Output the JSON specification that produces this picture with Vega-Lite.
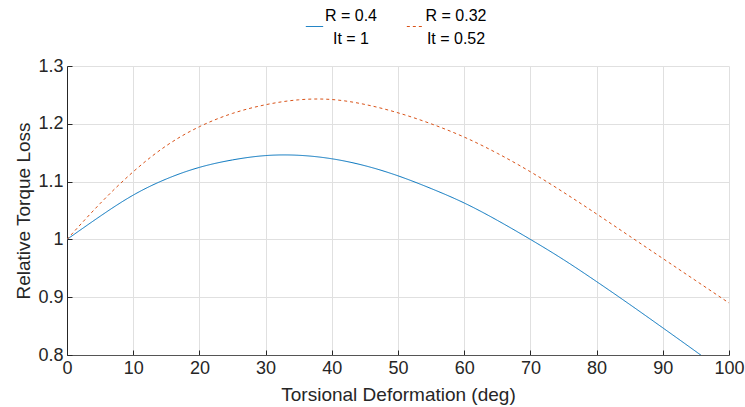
{
  "$schema": "https://vega.github.io/schema/vega-lite/v6.json",
  "autosize": {"type": "none"},
  "padding": {"left": 67, "top": 66, "right": 16, "bottom": 52},
  "width": 662,
  "height": 289,
  "background": "white",
  "data": {"values": [
    {"deg": 0, "loss": 1.0, "s": "R = 0.4\nIt = 1"},
    {"deg": 5, "loss": 1.040, "s": "R = 0.4\nIt = 1"},
    {"deg": 10, "loss": 1.0766, "s": "R = 0.4\nIt = 1"},
    {"deg": 15, "loss": 1.1045, "s": "R = 0.4\nIt = 1"},
    {"deg": 20, "loss": 1.1246, "s": "R = 0.4\nIt = 1"},
    {"deg": 25, "loss": 1.1375, "s": "R = 0.4\nIt = 1"},
    {"deg": 30, "loss": 1.1450, "s": "R = 0.4\nIt = 1"},
    {"deg": 35, "loss": 1.1455, "s": "R = 0.4\nIt = 1"},
    {"deg": 40, "loss": 1.1395, "s": "R = 0.4\nIt = 1"},
    {"deg": 45, "loss": 1.1275, "s": "R = 0.4\nIt = 1"},
    {"deg": 50, "loss": 1.1100, "s": "R = 0.4\nIt = 1"},
    {"deg": 55, "loss": 1.0880, "s": "R = 0.4\nIt = 1"},
    {"deg": 60, "loss": 1.0630, "s": "R = 0.4\nIt = 1"},
    {"deg": 65, "loss": 1.0330, "s": "R = 0.4\nIt = 1"},
    {"deg": 70, "loss": 1.0000, "s": "R = 0.4\nIt = 1"},
    {"deg": 75, "loss": 0.9650, "s": "R = 0.4\nIt = 1"},
    {"deg": 80, "loss": 0.9270, "s": "R = 0.4\nIt = 1"},
    {"deg": 85, "loss": 0.8875, "s": "R = 0.4\nIt = 1"},
    {"deg": 90, "loss": 0.8470, "s": "R = 0.4\nIt = 1"},
    {"deg": 95, "loss": 0.8060, "s": "R = 0.4\nIt = 1"},
    {"deg": 100, "loss": 0.7645, "s": "R = 0.4\nIt = 1"},
    {"deg": 0, "loss": 1.0, "s": "R = 0.32\nIt = 0.52"},
    {"deg": 5, "loss": 1.062, "s": "R = 0.32\nIt = 0.52"},
    {"deg": 10, "loss": 1.117, "s": "R = 0.32\nIt = 0.52"},
    {"deg": 15, "loss": 1.162, "s": "R = 0.32\nIt = 0.52"},
    {"deg": 20, "loss": 1.195, "s": "R = 0.32\nIt = 0.52"},
    {"deg": 25, "loss": 1.218, "s": "R = 0.32\nIt = 0.52"},
    {"deg": 30, "loss": 1.233, "s": "R = 0.32\nIt = 0.52"},
    {"deg": 35, "loss": 1.2415, "s": "R = 0.32\nIt = 0.52"},
    {"deg": 40, "loss": 1.2420, "s": "R = 0.32\nIt = 0.52"},
    {"deg": 45, "loss": 1.2335, "s": "R = 0.32\nIt = 0.52"},
    {"deg": 50, "loss": 1.2190, "s": "R = 0.32\nIt = 0.52"},
    {"deg": 55, "loss": 1.2000, "s": "R = 0.32\nIt = 0.52"},
    {"deg": 60, "loss": 1.1770, "s": "R = 0.32\nIt = 0.52"},
    {"deg": 65, "loss": 1.1490, "s": "R = 0.32\nIt = 0.52"},
    {"deg": 70, "loss": 1.1170, "s": "R = 0.32\nIt = 0.52"},
    {"deg": 75, "loss": 1.0815, "s": "R = 0.32\nIt = 0.52"},
    {"deg": 80, "loss": 1.0440, "s": "R = 0.32\nIt = 0.52"},
    {"deg": 85, "loss": 1.0055, "s": "R = 0.32\nIt = 0.52"},
    {"deg": 90, "loss": 0.9670, "s": "R = 0.32\nIt = 0.52"},
    {"deg": 95, "loss": 0.9285, "s": "R = 0.32\nIt = 0.52"},
    {"deg": 100, "loss": 0.8900, "s": "R = 0.32\nIt = 0.52"}
  ]},
  "mark": {"type": "line", "strokeWidth": 1, "clip": true, "interpolate": "natural"},
  "encoding": {
    "x": {
      "field": "deg", "type": "quantitative",
      "scale": {"domain": [0, 100], "nice": false, "zero": false},
      "axis": {
        "title": "Torsional Deformation (deg)",
        "values": [0, 10, 20, 30, 40, 50, 60, 70, 80, 90, 100],
        "format": "d",
        "labelFlush": false,
        "tickSize": -5,
        "tickColor": "#262626",
        "labelPadding": 9,
        "titlePadding": 8,
        "domainColor": "#555555"
      }
    },
    "y": {
      "field": "loss", "type": "quantitative",
      "scale": {"domain": [0.8, 1.3], "nice": false, "zero": false},
      "axis": {
        "title": "Relative Torque Loss",
        "values": [0.8, 0.9, 1.0, 1.1, 1.2, 1.3],
        "format": "~g",
        "labelFlush": false,
        "tickSize": -5,
        "tickColor": "#262626",
        "labelPadding": 9,
        "titlePadding": 4,
        "domainColor": "#262626"
      }
    },
    "color": {
      "field": "s", "type": "nominal",
      "sort": ["R = 0.4\nIt = 1", "R = 0.32\nIt = 0.52"],
      "scale": {"domain": ["R = 0.4\nIt = 1", "R = 0.32\nIt = 0.52"], "range": ["#0072BD", "#D95319"]},
      "legend": {
        "title": null,
        "orient": "none",
        "direction": "horizontal",
        "legendX": 238,
        "legendY": -49,
        "symbolType": "stroke",
        "symbolSize": 300,
        "symbolStrokeWidth": 1,
        "labelExpr": "split(datum.label, '\\n')",
        "labelAlign": "center",
        "labelOffset": 27,
        "labelFontSize": 16,
        "labelColor": "#000000",
        "columnPadding": 26,
        "labelLimit": 200,
        "encode": {"labels": {"update": {"dy": {"value": -10.5}, "dx": {"signal": "datum.index == 1 ? 4 : 0"}, "lineHeight": {"value": 23}}}}
      }
    },
    "strokeDash": {
      "field": "s", "type": "nominal",
      "sort": ["R = 0.4\nIt = 1", "R = 0.32\nIt = 0.52"],
      "scale": {"domain": ["R = 0.4\nIt = 1", "R = 0.32\nIt = 0.52"], "range": [[1, 0], [3, 3]]},
      "legend": null
    }
  },
  "config": {
    "font": "Liberation Sans",
    "view": {"stroke": null},
    "axis": {
      "labelFont": "Liberation Sans",
      "labelFontSize": 18,
      "labelColor": "#262626",
      "titleFont": "Liberation Sans",
      "titleFontSize": 19,
      "titleFontWeight": "normal",
      "titleColor": "#262626",
      "gridColor": "#e0e0e0",
      "gridWidth": 1
    },
    "legend": {"labelFont": "Liberation Sans"}
  }
}
